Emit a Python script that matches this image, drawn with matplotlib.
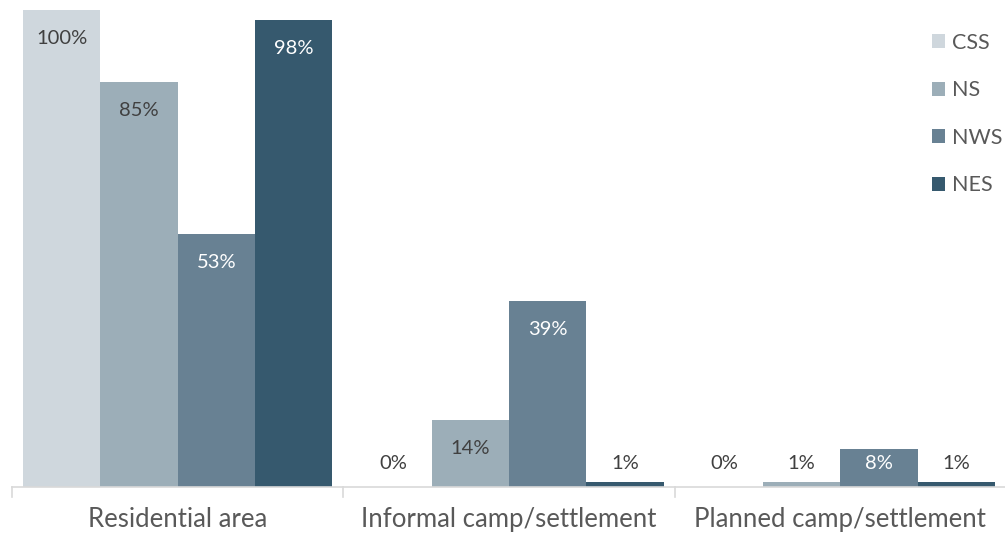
import matplotlib
matplotlib.use("Agg")
import matplotlib.pyplot as plt
from matplotlib.patches import Patch
import numpy as np

categories = ["Residential area", "Informal camp/settlement", "Planned camp/settlement"]
series = ["CSS", "NS", "NWS", "NES"]
values = {
    "CSS": [100, 0, 0],
    "NS": [85, 14, 1],
    "NWS": [53, 39, 8],
    "NES": [98, 1, 1],
}
colors = {"CSS": "#cfd7dd", "NS": "#9caeb8", "NWS": "#688193", "NES": "#36596e"}
label_on_dark = {"CSS": False, "NS": False, "NWS": True, "NES": True}

plt.rcParams["font.family"] = ["Lato", "DejaVu Sans"]

W, H = 1005, 533
fig = plt.figure(figsize=(W / 100, H / 100), dpi=100)
ax_left, ax_right = 12 / W, 1006 / W
ax_bottom, ax_top = (H - 487) / H, (H - 10) / H
ax = fig.add_axes([ax_left, ax_bottom, ax_right - ax_left, ax_top - ax_bottom])

bar_w = 0.2333
x = np.arange(len(categories)) + 0.5
for i, s in enumerate(series):
    xs = x + (i - 1.5) * bar_w
    ax.bar(xs, values[s], width=bar_w, color=colors[s], linewidth=0, zorder=2)
    for xi, v in zip(xs, values[s]):
        y = max(v - 6, 5)
        inside = v >= 7
        col = "white" if (inside and label_on_dark[s]) else "#404040"
        ax.text(xi, y, f"{v}%", ha="center", va="center", fontsize=14.5,
                color=col, zorder=3)

ax.set_xlim(0, 3)
ax.set_ylim(0, 100)
ax.set_yticks([])
ax.set_xticks([])
for sp in ["top", "right", "left"]:
    ax.spines[sp].set_visible(False)
ax.spines["bottom"].set_color("#d9d9d9")
ax.spines["bottom"].set_linewidth(1.2)

# category separators below the axis
for b in [0, 1, 2, 3]:
    ax.plot([b, b], [0, -2.2], color="#d9d9d9", lw=1.2, clip_on=False)

for xi, c in zip(x, categories):
    ax.text(xi, -8.4, c, ha="center", va="baseline", fontsize=18.5, color="#595959",
            clip_on=False)

handles = [Patch(facecolor=colors[s], edgecolor="none") for s in series]
leg = fig.legend(handles, series, loc="upper left", bbox_to_anchor=(923 / W, 1 - 24 / H),
                 frameon=False, fontsize=15.5, labelcolor="#595959",
                 handlelength=0.62, handleheight=0.62, handletextpad=0.35,
                 labelspacing=1.28, borderaxespad=0)

fig.savefig("out.png", dpi=100)
